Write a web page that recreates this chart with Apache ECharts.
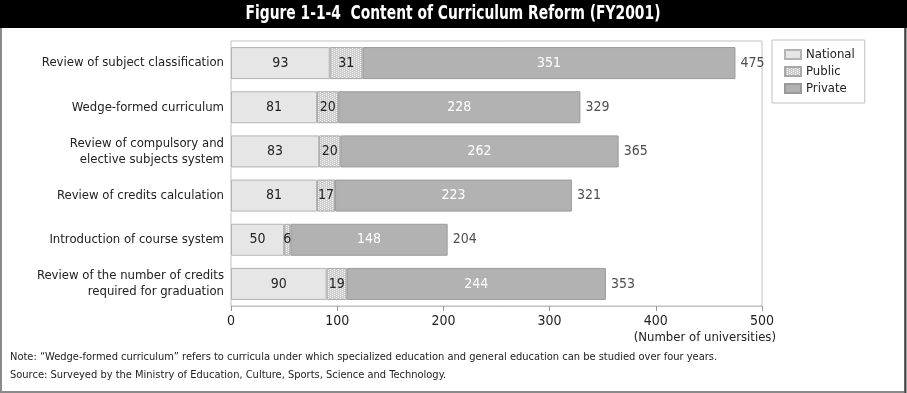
<!DOCTYPE html>
<html>
<head>
<meta charset="utf-8">
<script src="https://cdn.jsdelivr.net/npm/echarts@6/dist/echarts.min.js"></script>
<style>
html,body{margin:0;padding:0;background:#fff;}
#c{width:907px;height:393px;}
</style>
</head>
<body>
<div id="c"></div>
<script>
var categories = ['Review of subject classification', 'Wedge-formed curriculum', 'Review of compulsory and\nelective subjects system', 'Review of credits calculation', 'Introduction of course system', 'Review of the number of credits\nrequired for graduation'];
var national = [93, 81, 83, 81, 50, 90];
var publicU = [31, 20, 20, 17, 6, 19];
var privateU = [351, 228, 262, 223, 148, 244];
var totals = [475, 329, 365, 321, 204, 353];
var xTicks = [0, 100, 200, 300, 400, 500];

var FONT = '"DejaVu Sans Condensed", "Liberation Sans Narrow", Arial, sans-serif';

function makePattern() {
  var cv = document.createElement('canvas');
  cv.width = 4; cv.height = 2;
  var ctx = cv.getContext('2d');
  ctx.fillStyle = '#cdcdcd';
  ctx.fillRect(0, 0, 4, 2);
  ctx.fillStyle = '#f4f4f4';
  ctx.fillRect(0, 0, 1, 1);
  ctx.fillRect(2, 1, 1, 1);
  return cv;
}

var chart = echarts.init(document.getElementById('c'));
var labelBase = { show: true, position: 'inside', fontFamily: FONT, fontSize: 14 };
var option = {
  animation: false,
  textStyle: { fontFamily: FONT },
  grid: { left: 231, right: 145, top: 41, bottom: 87, show: true, borderColor: '#c0c0c0', borderWidth: 1, containLabel: false },
  legend: {
    data: ['National', 'Public', 'Private'],
    orient: 'vertical', left: 772, top: 40,
    padding: [8, 10, 8, 12],
    borderColor: '#c0c0c0', borderWidth: 1,
    itemWidth: 16, itemHeight: 9, itemGap: 4,
    icon: 'rect',
    textStyle: { fontFamily: FONT, fontSize: 13, color: '#222' }
  },
  xAxis: {
    type: 'value', min: xTicks[0], max: xTicks[xTicks.length - 1], interval: 100,
    splitLine: { show: false },
    axisLine: { show: true, lineStyle: { color: '#c0c0c0' } },
    axisTick: { show: true, length: 5, lineStyle: { color: '#999' } },
    axisLabel: { fontFamily: FONT, fontSize: 14, color: '#222', margin: 8 }
  },
  yAxis: {
    type: 'category', data: categories, inverse: true,
    axisLine: { show: false }, axisTick: { show: false },
    axisLabel: { fontFamily: FONT, fontSize: 13, color: '#222', margin: 7, lineHeight: 16, align: 'right' }
  },
  series: [
    { name: 'National', type: 'bar', stack: 's', data: national, barWidth: 32,
      itemStyle: { color: '#e6e6e6', borderColor: '#b4b4b4', borderWidth: 1 },
      label: Object.assign({}, labelBase, { color: '#222' }) },
    { name: 'Public', type: 'bar', stack: 's', data: publicU, barWidth: 32,
      itemStyle: { color: { image: makePattern(), repeat: 'repeat' }, borderColor: '#a8a8a8', borderWidth: 1 },
      label: Object.assign({}, labelBase, { color: '#222' }) },
    { name: 'Private', type: 'bar', stack: 's', data: privateU, barWidth: 32,
      itemStyle: { color: '#b2b2b2', borderColor: '#9a9a9a', borderWidth: 1 },
      label: Object.assign({}, labelBase, { color: '#fff' }) },
    { name: 'Total', type: 'scatter', symbolSize: 0, silent: true,
      data: totals.map(function (t, i) { return [t, i]; }),
      label: { show: true, position: 'right', distance: 5, fontFamily: FONT, fontSize: 14, color: '#222',
        formatter: function (p) { return totals[p.dataIndex]; } } }
  ],
  graphic: [
    { type: 'rect', shape: { x: 1, y: 1, width: 904, height: 391 }, style: { fill: 'none', stroke: '#8a8a8a', lineWidth: 2 }, z: 100 },
    { type: 'line', shape: { x1: 905.5, y1: 0, x2: 905.5, y2: 393 }, style: { stroke: '#444', lineWidth: 2 }, z: 100 },
    { type: 'rect', shape: { x: 0, y: 0, width: 907, height: 28 }, style: { fill: '#000' }, z: 101 },
    { type: 'text', x: 453, y: 14, scaleX: 0.81, z: 102,
      style: { text: 'Figure 1-1-4  Content of Curriculum Reform (FY2001)', fill: '#fff', font: 'bold 19px ' + FONT, textAlign: 'center', textVerticalAlign: 'middle' } },
    { type: 'text', x: 776, y: 338, z: 102,
      style: { text: '(Number of universities)', fill: '#222', font: '13px ' + FONT, textAlign: 'right', textVerticalAlign: 'middle' } },
    { type: 'text', x: 10, y: 357, z: 102,
      style: { text: 'Note: \u201cWedge-formed curriculum\u201d refers to curricula under which specialized education and general education can be studied over four years.', fill: '#222', font: '11px ' + FONT, textVerticalAlign: 'middle' } },
    { type: 'text', x: 10, y: 375, z: 102,
      style: { text: 'Source: Surveyed by the Ministry of Education, Culture, Sports, Science and Technology.', fill: '#222', font: '11px ' + FONT, textVerticalAlign: 'middle' } }
  ]
};
chart.setOption(option);
</script>
</body>
</html>
